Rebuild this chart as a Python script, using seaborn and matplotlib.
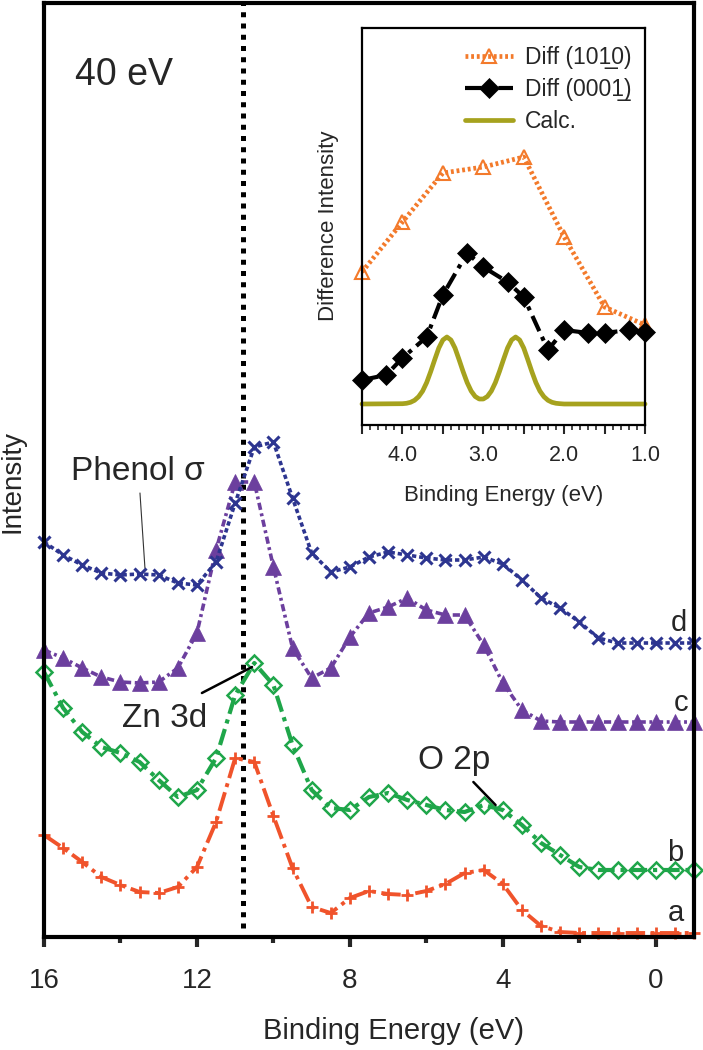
import matplotlib
matplotlib.use('Agg')
import matplotlib.pyplot as plt
from matplotlib.ticker import FixedLocator, MultipleLocator, FuncFormatter
import seaborn as sns

# ── Données (unités arbitraires d'intensité) ─────────────────────────
energy = [16.0, 15.5, 15.0, 14.5, 14.0, 13.5, 13.0, 12.5, 12.0, 11.5,
          11.0, 10.5, 10.0, 9.5, 9.0, 8.5, 8.0, 7.5, 7.0, 6.5,
          6.0, 5.5, 5.0, 4.5, 4.0, 3.5, 3.0, 2.5, 2.0, 1.5,
          1.0, 0.5, 0.0, -0.5, -1.0]

spec_a = [102, 89, 75, 60, 52, 45, 44, 50, 70, 115,
          179, 175, 121, 69, 30, 24, 39, 46, 43, 42,
          46, 53, 64, 67, 53, 27, 11, 5, 4, 4,
          4, 4, 4, 4, 4]
spec_b = [265, 229, 205, 190, 184, 175, 157, 140, 147, 179,
          242, 274, 252, 192, 147, 129, 127, 140, 144, 137,
          132, 127, 125, 132, 127, 112, 94, 82, 70, 67,
          67, 67, 67, 67, 67]
spec_c = [287, 279, 269, 260, 255, 254, 255, 269, 304, 387,
          455, 455, 370, 289, 259, 269, 300, 324, 330, 339,
          327, 322, 322, 292, 254, 227, 216, 215, 215, 215,
          215, 215, 215, 215, 215]
spec_d = [395, 382, 372, 364, 362, 363, 362, 354, 352, 375,
          434, 490, 495, 439, 384, 365, 370, 380, 385, 382,
          379, 377, 377, 380, 373, 357, 339, 329, 315, 299,
          294, 294, 294, 294, 294]

zn3d_energy = 10.8

# encart : spectres de différence
e_1010 = [4.5, 4.0, 3.5, 3.0, 2.5, 2.0, 1.5, 1.0]
diff_1010 = [153, 203, 252, 258, 268, 188, 118, 100]
e_0001 = [4.5, 4.2, 4.0, 3.7, 3.5, 3.2, 3.0, 2.7, 2.5, 2.2, 2.0, 1.7, 1.5, 1.2, 1.0]
diff_0001 = [45, 50, 67, 88, 130, 172, 158, 143, 128, 75, 95, 92, 92, 95, 93]
e_calc = [4.5, 4.0, 3.95, 3.9, 3.85, 3.8, 3.75, 3.7, 3.65, 3.6, 3.55, 3.5, 3.45,
          3.4, 3.35, 3.3, 3.25, 3.2, 3.15, 3.1, 3.05, 3.0, 2.95, 2.9, 2.85,
          2.8, 2.75, 2.7, 2.65, 2.6, 2.55, 2.5, 2.45, 2.4, 2.35, 2.3, 2.25,
          2.2, 2.15, 2.1, 2.05, 2.0, 1.0]
calc = [21, 21.3, 21.7, 22.7, 24.7, 28.3, 34, 42.5, 53.5, 65.5, 77, 85, 88,
        85, 77, 65.5, 53.5, 42.5, 34, 28.5, 26, 26, 28.5, 34, 42.5,
        53.5, 65.5, 77, 85, 88, 85, 77, 65.5, 53.5, 42.5, 34, 28.3,
        24.7, 22.7, 21.7, 21.3, 21, 21]

# ── Style ───────────────────────────────────────────────────────────
sns.set_style('white')
plt.rcParams['font.family'] = ['Liberation Sans', 'DejaVu Sans']

c_a, c_b, c_c, c_d = '#F0532B', '#1FA64A', '#6C3F9E', '#2D3590'
c_or, c_calc = '#F37A2B', '#A6A21E'

fig = plt.figure(figsize=(7.03, 10.5), dpi=100)
ax = fig.add_axes([44 / 703, 1 - 937 / 1050, 650 / 703, 934 / 1050])

# ── Spectres principaux ─────────────────────────────────────────────
sns.lineplot(x=energy, y=spec_a, ax=ax, sort=False, errorbar=None, color=c_a,
             lw=2.8, linestyle=(0, (5, 1.4, 1, 1.4)), marker='+', markersize=8,
             markeredgewidth=2, markeredgecolor=c_a, clip_on=False)
sns.lineplot(x=energy, y=spec_b, ax=ax, sort=False, errorbar=None, color=c_b,
             lw=3, linestyle=(0, (4, 1.4, 1, 1.4)), marker='D', markersize=8.5,
             markerfacecolor='none', markeredgewidth=1.8, markeredgecolor=c_b,
             clip_on=False)
sns.lineplot(x=energy, y=spec_c, ax=ax, sort=False, errorbar=None, color=c_c,
             lw=2.6, linestyle=(0, (2, 1, 0.8, 1)), marker='^', markersize=11,
             markeredgewidth=0.5, markeredgecolor=c_c, clip_on=False)
sns.lineplot(x=energy, y=spec_d, ax=ax, sort=False, errorbar=None, color=c_d,
             lw=2.6, linestyle=(0, (1.2, 0.8)), marker='x', markersize=8.5,
             markeredgewidth=2.2, markeredgecolor=c_d, clip_on=False)

ax.plot([zn3d_energy, zn3d_energy], [9, 934], color='black', lw=3.6,
        linestyle=(0, (1, 1.25)), zorder=1)

ax.set_xlim(16, -1)
ax.set_ylim(0, 934)
ax.xaxis.set_major_locator(FixedLocator([16, 12, 8, 4, 0]))
ax.xaxis.set_minor_locator(FixedLocator([14, 10, 6, 2]))
ax.set_yticks([])
ax.tick_params(axis='x', which='major', direction='out', length=7, width=3,
               labelsize=20, pad=15, bottom=True)
ax.tick_params(axis='x', which='minor', direction='out', length=4.5, width=3,
               bottom=True)
for sp in ax.spines.values():
    sp.set_linewidth(3)
    sp.set_color('black')

ax.set_xlabel('Binding Energy (eV)', fontsize=21, va='top')
ax.xaxis.set_label_coords(0.538, -0.086)
ax.set_ylabel('Intensity', fontsize=20)
ax.yaxis.set_label_coords(-0.028, 0.488)

# ── Annotations ─────────────────────────────────────────────────────
ax.text(13.9, 862, '40 eV', fontsize=27, ha='center', va='center')
ax.text(13.54, 457, 'Phenol σ', fontsize=24, ha='center', va='baseline')
ax.plot([13.49, 13.36], [444, 369], color='#333333', lw=0.8)
ax.text(12.85, 210, 'Zn 3d', fontsize=24, ha='center', va='baseline')
ax.plot([11.87, 10.56], [244, 270], color='black', lw=1.8)
ax.text(5.27, 168, 'O 2p', fontsize=24, ha='center', va='baseline')
ax.plot([4.77, 4.19], [155, 132], color='black', lw=1.8)
for lab, xx, yy in [('a', -0.52, 24), ('b', -0.52, 84), ('c', -0.65, 234), ('d', -0.6, 314)]:
    ax.text(xx, yy, lab, fontsize=21, ha='center', va='center')

# ── Encart ──────────────────────────────────────────────────────────
ins = fig.add_axes([362 / 703, 1 - 425 / 1050, 283 / 703, 397 / 1050])
ins.set_facecolor('white')
sns.lineplot(x=e_1010, y=diff_1010, ax=ins, sort=False, errorbar=None,
             color=c_or, lw=3.4, linestyle=(0, (0.6, 0.6)), marker='^',
             markersize=10, markerfacecolor='none', markeredgewidth=1.5,
             markeredgecolor=c_or, clip_on=False, label='Diff (101\u03320)')
sns.lineplot(x=e_0001, y=diff_0001, ax=ins, sort=False, errorbar=None,
             color='black', lw=3, linestyle=(0, (4, 1.5, 1, 1.5)), marker='D',
             markersize=10.5, markeredgewidth=0.5, markeredgecolor='black',
             clip_on=False, label='Diff (0001\u0332)')
sns.lineplot(x=e_calc, y=calc, ax=ins, sort=False, errorbar=None,
             color=c_calc, lw=3.4, clip_on=False, label='Calc.')

ins.set_xlim(4.5, 1.0)
ins.set_ylim(0, 397)
ins.xaxis.set_major_locator(MultipleLocator(0.5))
ins.xaxis.set_minor_locator(MultipleLocator(0.1))
ins.xaxis.set_major_formatter(FuncFormatter(
    lambda v, p: f'{v:.1f}' if abs(v - round(v)) < 1e-6 else ''))
ins.set_yticks([])
ins.tick_params(axis='x', which='major', direction='out', length=6.5, width=1.5,
                labelsize=15.5, pad=8, bottom=True)
ins.tick_params(axis='x', which='minor', direction='out', length=3.5, width=1.2,
                bottom=True)
for sp in ins.spines.values():
    sp.set_linewidth(1.6)
    sp.set_color('black')
ins.set_xlabel('Binding Energy (eV)', fontsize=16, va='top')
ins.xaxis.set_label_coords(0.502, -0.151)
ins.set_ylabel('Difference Intensity', fontsize=16)
ins.yaxis.set_label_coords(-0.08, 0.501)
ins.legend(loc='upper right', bbox_to_anchor=(1.0, 0.99), frameon=False,
           fontsize=16.5, handlelength=2.1, handletextpad=0.5,
           labelspacing=0.4, borderaxespad=0.2)

fig.savefig('out.png', dpi=100)
